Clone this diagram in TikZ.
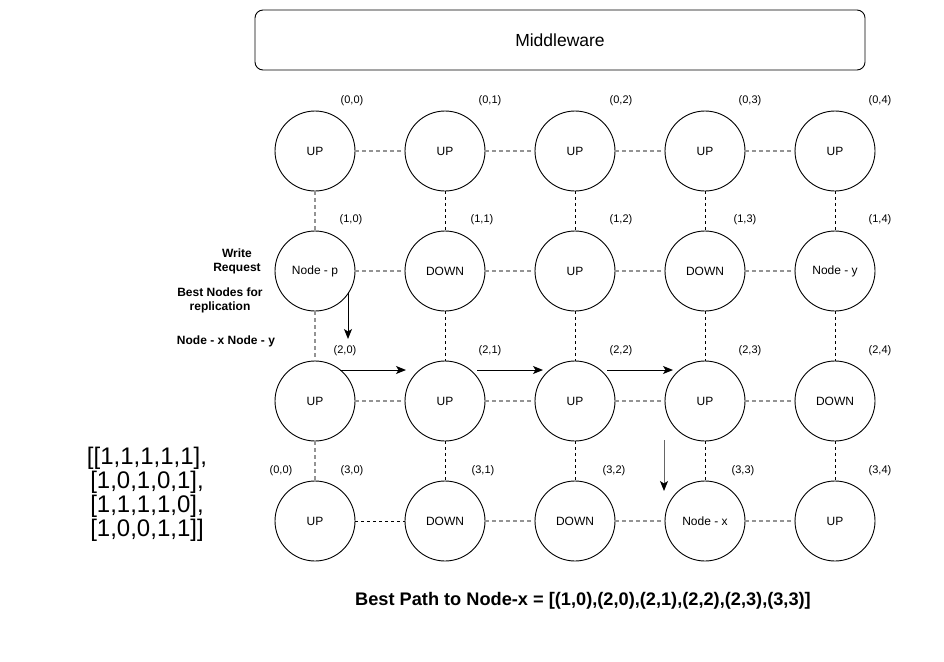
\documentclass[tikz,border=0pt]{standalone}
\usepackage{fontspec}
\setmainfont{Liberation Sans}
\usetikzlibrary{arrows.meta}
\begin{document}
\begin{tikzpicture}[x=1pt,y=-1pt,
  gnode/.style={draw, circle, minimum size=80pt, inner sep=0pt, line width=0.9pt, font=\fontsize{12}{14}\selectfont},
  idx/.style={font=\fontsize{11}{13}\selectfont, inner sep=0pt},
  hlink/.style={draw=gray!85, dash pattern=on 4pt off 3pt, line width=1.2pt},
  vlink/.style={draw=black, dash pattern=on 3pt off 3pt, line width=0.8pt},
  glink/.style={draw=gray!85, dash pattern=on 4pt off 3pt, line width=1.2pt},
  flowarrow/.style={-{Stealth[length=10pt,width=8pt,inset=2.5pt]}, line width=1pt},
  btext/.style={font=\bfseries\fontsize{12}{14}\selectfont, inner sep=0pt, align=center}
]
\useasboundingbox (0,0) rectangle (944,661);

% Middleware
\node[draw, rounded corners=8pt, line width=0.9pt, minimum width=610pt, minimum height=60pt,
  font=\fontsize{17.5}{20}\selectfont] (mw) at (560,40) {Middleware};

% Grid nodes
\node[gnode] (n00) at (315,151) {UP};
\node[gnode] (n01) at (445,151) {UP};
\node[gnode] (n02) at (575,151) {UP};
\node[gnode] (n03) at (705,151) {UP};
\node[gnode] (n04) at (835,151) {UP};

\node[gnode] (n10) at (315,271) {Node - p};
\node[gnode] (n11) at (445,271) {DOWN};
\node[gnode] (n12) at (575,271) {UP};
\node[gnode] (n13) at (705,271) {DOWN};
\node[gnode] (n14) at (835,271) {Node - y};

\node[gnode] (n20) at (315,401) {UP};
\node[gnode] (n21) at (445,401) {UP};
\node[gnode] (n22) at (575,401) {UP};
\node[gnode] (n23) at (705,401) {UP};
\node[gnode] (n24) at (835,401) {DOWN};

\node[gnode] (n30) at (315,521) {UP};
\node[gnode] (n31) at (445,521) {DOWN};
\node[gnode] (n32) at (575,521) {DOWN};
\node[gnode] (n33) at (705,521) {Node - x};
\node[gnode] (n34) at (835,521) {UP};

% horizontal links
\foreach \r in {0,1,2}{
  \draw[hlink] (n\r0) -- (n\r1);
  \draw[hlink] (n\r1) -- (n\r2);
  \draw[hlink] (n\r2) -- (n\r3);
  \draw[hlink] (n\r3) -- (n\r4);
}
\draw[vlink] (n30) -- (n31);
\draw[hlink] (n31) -- (n32);
\draw[hlink] (n32) -- (n33);
\draw[hlink] (n33) -- (n34);

% vertical links
\draw[glink] (n00) -- (n10);
\draw[glink] (n10) -- (n20);
\draw[glink] (n20) -- (n30);
\foreach \c in {1,2,3,4}{
  \draw[vlink] (n0\c) -- (n1\c);
  \draw[vlink] (n1\c) -- (n2\c);
  \draw[vlink] (n2\c) -- (n3\c);
}

% index labels
\node[idx] (l00) at (352,101) {(0,0)};
\node[idx] (l01) at (490,101) {(0,1)};
\node[idx] (l02) at (621,101) {(0,2)};
\node[idx] (l03) at (750,101) {(0,3)};
\node[idx] (l04) at (880,101) {(0,4)};

\node[idx] (l10) at (351,220) {(1,0)};
\node[idx] (l11) at (482,220) {(1,1)};
\node[idx] (l12) at (621,220) {(1,2)};
\node[idx] (l13) at (745,220) {(1,3)};
\node[idx] (l14) at (880,220) {(1,4)};

\node[idx] (l20) at (345,351) {(2,0)};
\node[idx] (l21) at (490,351) {(2,1)};
\node[idx] (l22) at (621,351) {(2,2)};
\node[idx] (l23) at (750,351) {(2,3)};
\node[idx] (l24) at (880,351) {(2,4)};

\node[idx] (l30x) at (281,471) {(0,0)};
\node[idx] (l30) at (352,471) {(3,0)};
\node[idx] (l31) at (483,471) {(3,1)};
\node[idx] (l32) at (614,471) {(3,2)};
\node[idx] (l33) at (743,471) {(3,3)};
\node[idx] (l34) at (880,471) {(3,4)};

% path arrows
\coordinate (a1s) at (348,292);
\coordinate (a1e) at (348,339);
\coordinate (a2s) at (340,370);
\coordinate (a2e) at (406,370);
\coordinate (a3s) at (477,370);
\coordinate (a3e) at (543,370);
\coordinate (a4s) at (607,370);
\coordinate (a4e) at (673,370);
\coordinate (a5s) at (664,440);
\coordinate (a5e) at (664,491);
\draw[flowarrow] (a1s) -- (a1e);
\draw[flowarrow] (a2s) -- (a2e);
\draw[flowarrow] (a3s) -- (a3e);
\draw[flowarrow] (a4s) -- (a4e);
\draw[line width=1pt, draw=gray!80!black, -{Stealth[length=10pt,width=8pt,inset=2.5pt,color=black]}] (a5s) -- (a5e);

% left texts
\node[btext] (wr) at (237,261) {Write\\[0pt]Request};
\node[btext] (bn) at (220,300) {Best Nodes for\\[0pt]replication};
\node[btext] (nxy) at (226,341) {Node - x Node - y};

% matrix
\node[align=center, inner sep=0pt, font=\fontsize{24}{24}\selectfont] (mat) at (147,494)
  {{[}[1,1,1,1,1],\\{}[1,0,1,0,1],\\{}[1,1,1,1,0],\\{}[1,0,0,1,1]]};

% bottom text
\node[inner sep=0pt, font=\bfseries\fontsize{18.2}{20}\selectfont] (best) at (583,601)
  {Best Path to Node-x = [(1,0),(2,0),(2,1),(2,2),(2,3),(3,3)]};
\end{tikzpicture}
\end{document}
